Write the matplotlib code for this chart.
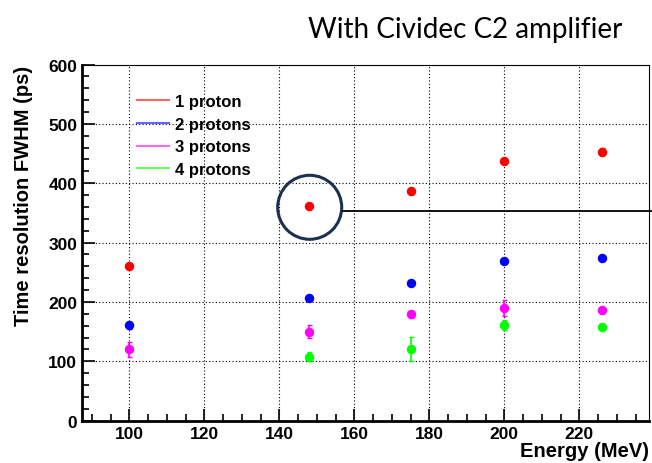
import matplotlib
matplotlib.use("Agg")
import matplotlib.pyplot as plt
from matplotlib.lines import Line2D
from matplotlib.patches import Ellipse
from matplotlib.ticker import MultipleLocator

# energies (MeV) and time resolution (ps) per number of protons
energy = [100, 148, 175, 200, 226]
energy_4p = [148, 175, 200, 226]

res_1p = [260, 361, 387, 437, 453]
err_1p = [3, 3, 5, 4, 6]
res_2p = [161, 206, 232, 269, 274]
err_2p = [6, 3, 3, 3, 3]
res_3p = [120, 150, 179, 190, 186]
err_3p = [12, 11, 6, 13, 4]
res_4p = [108, 121, 161, 158]
err_4p = [8, 20, 8, 4]

labels = ["1 proton", "2 protons", "3 protons", "4 protons"]
colors = ["#ff0000", "#0000ff", "#ff00ff", "#00ff00"]

plt.rcParams["font.family"] = ["Liberation Sans", "DejaVu Sans"]

fig = plt.figure(figsize=(6.52, 4.64), dpi=100)
ax = fig.add_axes([0.1258, 0.0912, 0.8696, 0.7676])

series = [
    (energy, res_1p, err_1p),
    (energy, res_2p, err_2p),
    (energy, res_3p, err_3p),
    (energy_4p, res_4p, err_4p),
]
for (x, y, e), c in zip(series, colors):
    ax.errorbar(x, y, yerr=e, fmt="o", color=c, ms=5.8, elinewidth=1.2,
                capsize=1.8, capthick=1.0, zorder=3)

ax.set_xlim(87.4, 238.6)
ax.set_ylim(0, 600)
ax.xaxis.set_major_locator(MultipleLocator(20))
ax.xaxis.set_minor_locator(MultipleLocator(5))
ax.yaxis.set_major_locator(MultipleLocator(100))
ax.yaxis.set_minor_locator(MultipleLocator(20))
ax.tick_params(which="both", direction="in", top=False, right=False,
               labelsize=12.5, width=1.2)
ax.tick_params(which="major", length=9)
ax.tick_params(which="minor", length=5)
for lab in ax.get_xticklabels() + ax.get_yticklabels():
    lab.set_fontweight("bold")
ax.grid(True, which="major", color="black", linestyle=(0, (1, 2)), linewidth=0.8)

ax.spines["left"].set_linewidth(2)
ax.spines["bottom"].set_linewidth(2)
ax.spines["top"].set_linewidth(0.8)
ax.spines["right"].set_linewidth(0.8)

ax.set_xlabel("Energy (MeV)", fontsize=14.5, fontweight="bold", ha="right")
ax.xaxis.set_label_coords(1.0, -0.058)
ax.set_ylabel("Time resolution FWHM (ps)", fontsize=14.5, fontweight="bold",
              ha="right")
ax.yaxis.set_label_coords(-0.086, 1.0)

handles = [Line2D([0], [0], color=c, lw=1.5, alpha=0.6) for c in colors]
ax.legend(handles, labels, loc="upper left", bbox_to_anchor=(0.097, 0.917),
          frameon=False, prop={"weight": "bold", "size": 12},
          handlelength=1.9, handletextpad=0.4, labelspacing=0.46,
          borderpad=0, borderaxespad=0)

fig.text(0.955, 0.935, "With Cividec C2 amplifier", ha="right", va="center",
         fontsize=20, family=["Lato", "DejaVu Sans"])

# highlight circle and pointer line
fig.add_artist(Ellipse((309.7 / 652, 1 - 208.3 / 464), 64 / 652, 64 / 464,
                       fill=False, edgecolor="#1c3050", lw=2.2))
fig.add_artist(Line2D([343 / 652, 1.0], [1 - 212 / 464, 1 - 212 / 464],
                      color="black", lw=1.3))

fig.savefig("out.png", dpi=100)
